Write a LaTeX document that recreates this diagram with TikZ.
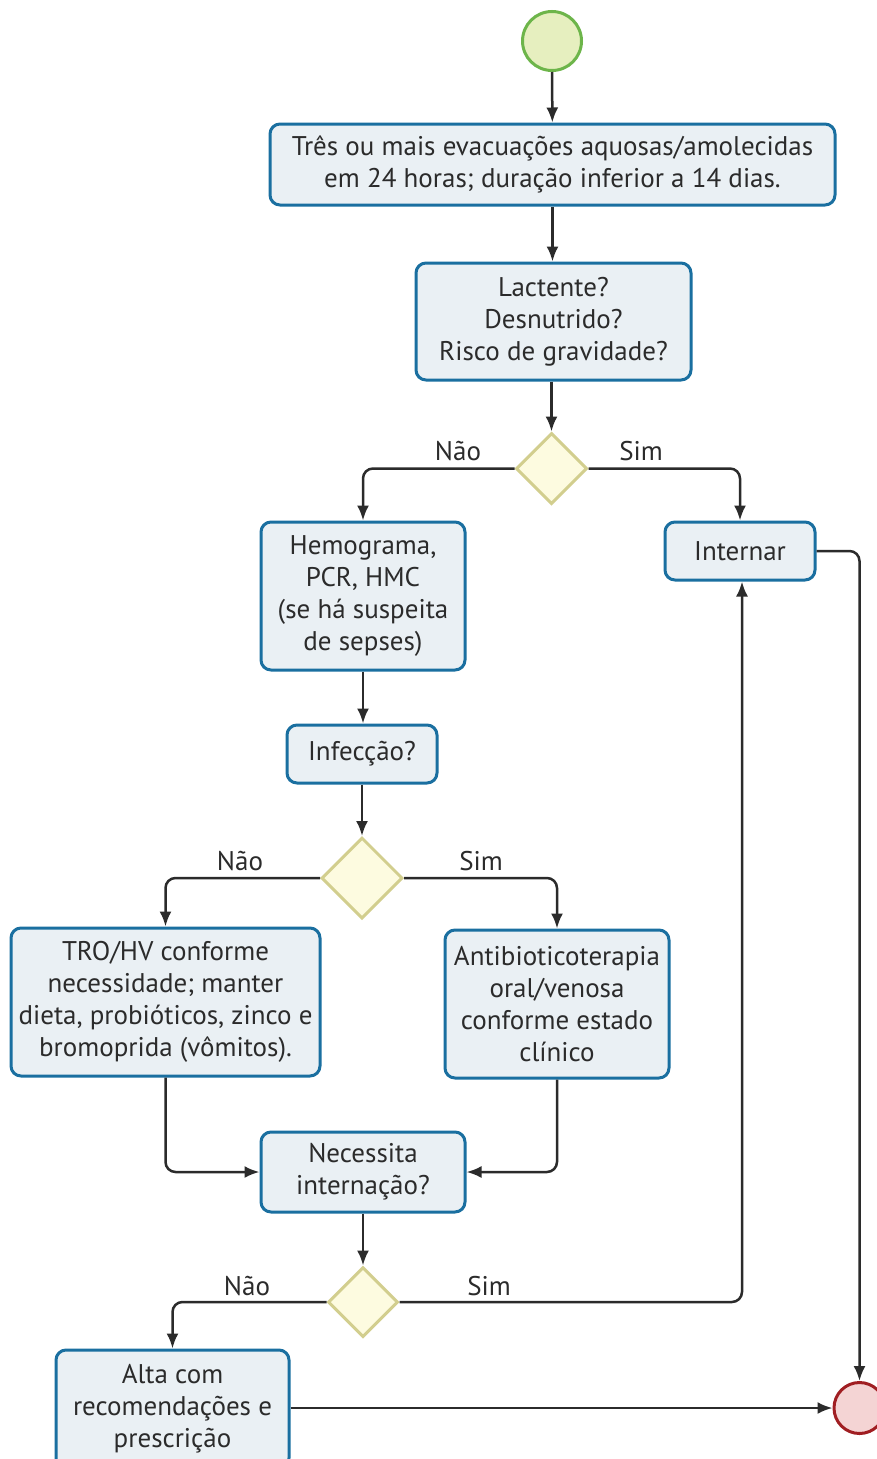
\documentclass[tikz,border=0pt]{standalone}
\usepackage{fontspec}
\setmainfont{PT Sans}
\usetikzlibrary{arrows.meta,shapes.geometric}
\definecolor{boxline}{HTML}{1A6FA0}
\definecolor{boxfill}{HTML}{EAF0F4}
\definecolor{decline}{HTML}{D2CE8E}
\definecolor{decfill}{HTML}{FDFBE0}
\definecolor{startline}{HTML}{6DB54A}
\definecolor{startfill}{HTML}{E6EFBF}
\definecolor{endline}{HTML}{A01E22}
\definecolor{endfill}{HTML}{F4D4D4}
\definecolor{ink}{HTML}{2B2B2B}
\tikzset{
  stepbox/.style={draw=boxline, fill=boxfill, line width=3pt, rounded corners=10pt,
    align=center, inner sep=0pt, text=ink,
    font=\fontsize{27}{32}\selectfont},
  decision/.style={diamond, draw=decline, fill=decfill, line width=3pt,
    inner sep=0pt, aspect=1},
  flow/.style={draw=ink, line width=2.5pt, rounded corners=10pt,
    -{Latex[length=15pt,width=12pt]}},
  lbl/.style={text=ink, font=\fontsize{27}{32}\selectfont, inner sep=0pt}
}
\begin{document}
\begin{tikzpicture}[x=1pt,y=-1pt]
\useasboundingbox (0,0) rectangle (877,1459);
\clip (0,0) rectangle (877,1459);
\fill[white] (0,0) rectangle (877,1459);

% start and end
\node[circle, draw=startline, fill=startfill, line width=3pt, minimum size=59pt, inner sep=0pt] (start) at (552,41) {};
\node[circle, draw=endline, fill=endfill, line width=3pt, minimum size=51pt, inner sep=0pt] (stop) at (859.5,1408) {};

% process boxes
\node[stepbox, minimum width=565pt, minimum height=81pt] (b1) at (552.5,164.5)
  {Três ou mais evacuações aquosas/amolecidas\\em 24 horas; duração inferior a 14 dias.};
\node[stepbox, minimum width=275pt, minimum height=117pt] (b2) at (553.5,321.5)
  {Lactente?\\Desnutrido?\\Risco de gravidade?};
\node[stepbox, minimum width=204pt, minimum height=148pt] (hemo) at (363,596)
  {Hemograma,\\PCR, HMC\\(se há suspeita\\de sepses)};
\node[stepbox, minimum width=150pt, minimum height=58pt] (intern) at (740,551)
  {Internar};
\node[stepbox, minimum width=150pt, minimum height=58pt] (infec) at (362,754)
  {Infecção?};
\node[stepbox, minimum width=309pt, minimum height=148pt] (tro) at (165.5,1002)
  {TRO/HV conforme\\necessidade; manter\\dieta, probióticos, zinco e\\bromoprida (vômitos).};
\node[stepbox, minimum width=224pt, minimum height=148pt] (anti) at (557,1004)
  {Antibioticoterapia\\oral/venosa\\conforme estado\\clínico};
\node[stepbox, minimum width=204pt, minimum height=80pt] (need) at (363,1172)
  {Necessita\\internação?};
\node[stepbox, minimum width=233pt, minimum height=118pt] (alta) at (172.5,1409)
  {Alta com\\recomendações e\\prescrição};

% decisions
\node[decision, minimum size=71pt] (d1) at (551.5,468.5) {};
\node[decision, minimum size=81pt] (d2) at (362,878) {};
\node[decision, minimum size=70pt] (d3) at (363,1302) {};

% connectors
\draw[flow] (start) -- (b1);
\draw[flow] (b1) -- (b2.north -| b1.south);
\draw[flow] (b2.south -| d1.north) -- (d1.north);
\draw[flow] (d1.west) -| (hemo.north);
\draw[flow] (d1.east) -| (intern.north);
\draw[flow] (intern.east) -| (stop.north);
\draw[flow] (hemo.south) -- (infec.north -| hemo.south);
\draw[flow] (infec.south -| d2.north) -- (d2.north);
\draw[flow] (d2.west) -| (tro.north);
\draw[flow] (d2.east) -| (anti.north);
\draw[flow] (tro.south) |- (need.west);
\draw[flow] (anti.south) |- (need.east);
\draw[flow] (need.south) -- (d3.north);
\draw[flow] (d3.west) -| (alta.north);
\draw[flow] (d3.east) -| ([xshift=2pt]intern.south);
\draw[flow] (alta.east |- stop.west) -- (stop.west);

% branch labels
\node[lbl] (n1) at (458,451) {Não};
\node[lbl] (s1) at (641,451) {Sim};
\node[lbl] (n2) at (240,861) {Não};
\node[lbl] (s2) at (481,861) {Sim};
\node[lbl] (n3) at (247,1286) {Não};
\node[lbl] (s3) at (489,1286) {Sim};
\end{tikzpicture}
\end{document}
